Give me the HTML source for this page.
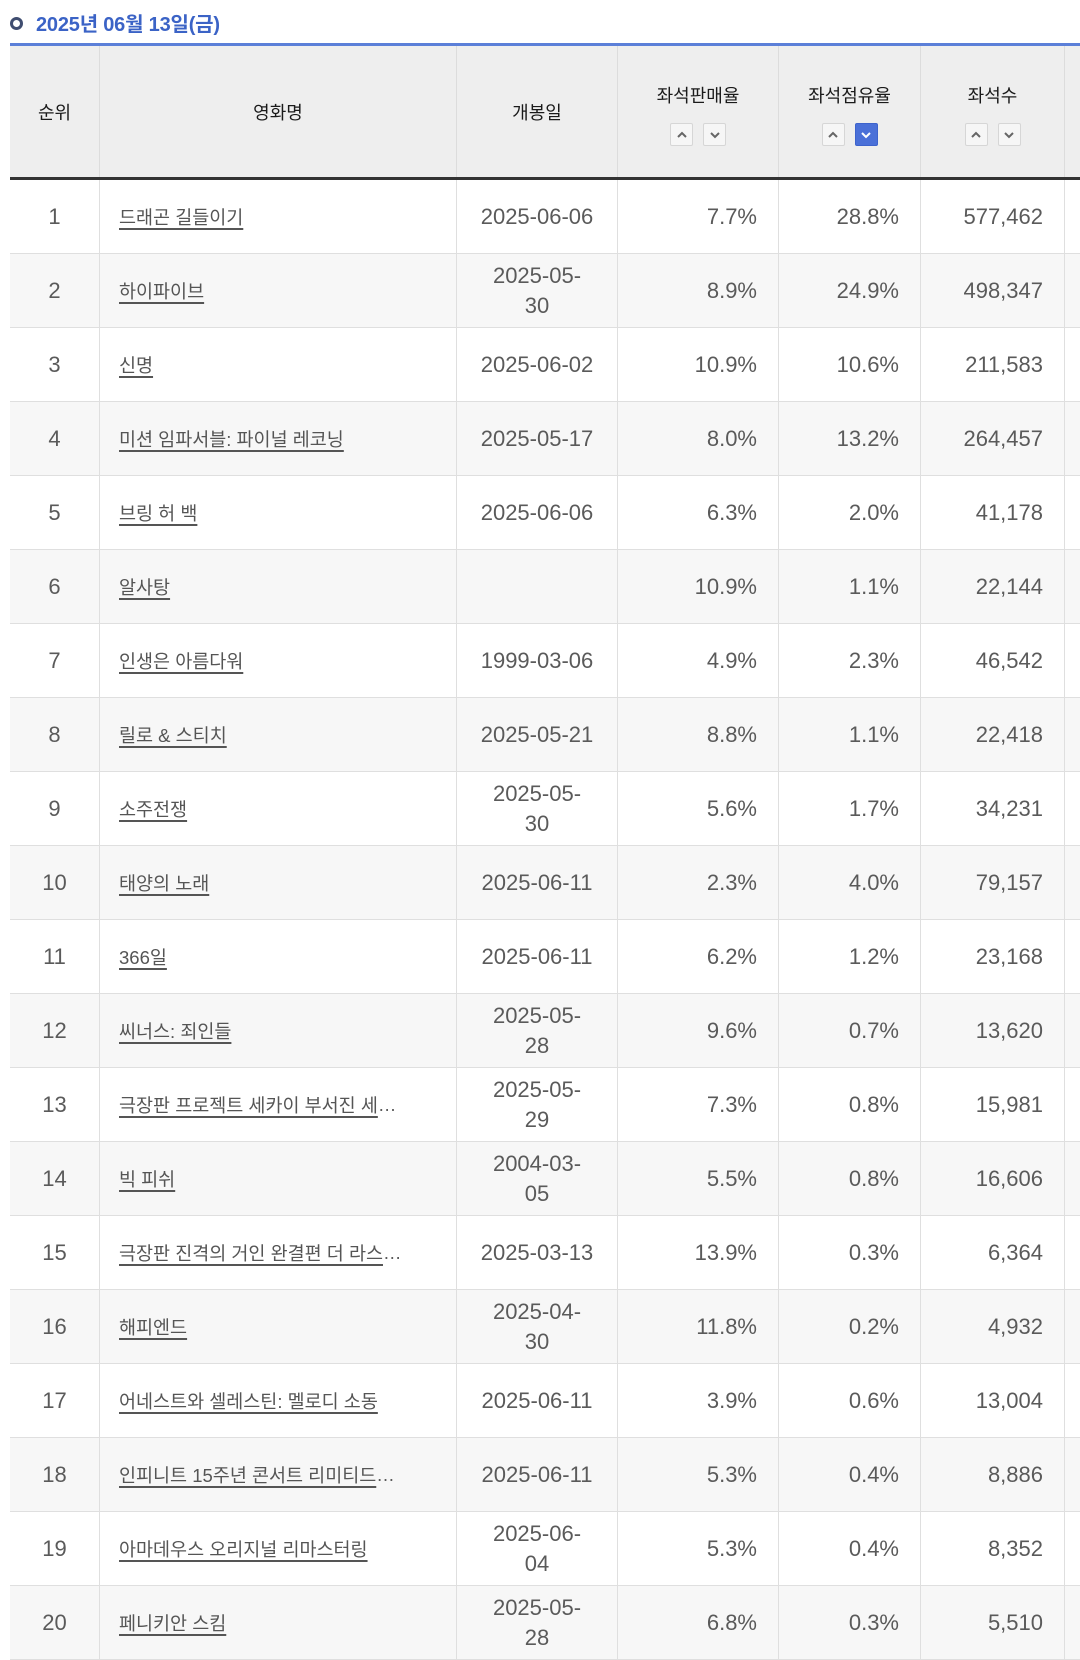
<!DOCTYPE html>
<html lang="ko">
<head>
<meta charset="utf-8">
<style>
html,body{margin:0;padding:0;background:#fff;}
body{width:1080px;height:1657px;overflow:hidden;position:relative;font-family:"Liberation Sans","Noto Sans CJK KR",sans-serif;}
.ttl{position:absolute;left:36px;top:11px;height:28px;line-height:28px;font-size:20px;font-weight:bold;color:#3b63c6;white-space:nowrap;letter-spacing:-0.2px;}
.ring{position:absolute;left:10px;top:17px;width:13px;height:13px;box-sizing:border-box;border:3px solid #3f4d70;border-radius:50%;background:#fff;}
.t{position:absolute;left:10px;top:43px;width:1070px;}
.top{height:3px;background:#5b7fd8;}
.hd{display:flex;height:131px;background:#eeeeee;}
.hd>div{box-sizing:border-box;border-right:1px solid #dcdcdc;height:131px;position:relative;font-size:18px;color:#1a1a1a;display:flex;align-items:center;justify-content:center;}
.hd>div.last{border-right:none;flex:1;}
.hd .lbl{position:absolute;left:0;right:0;top:38px;height:24px;line-height:24px;text-align:center;}
.hd .btns{position:absolute;left:0;right:0;top:77px;display:flex;justify-content:center;gap:10px;}
.b{width:23px;height:23px;box-sizing:border-box;border:1px solid #d6d6d6;background:#f6f6f6;border-radius:2px;display:flex;align-items:center;justify-content:center;}
.b.on{background:#4a70d8;border-color:#3d63cc;}
.dark{height:3px;background:#333;}
.r{display:flex;height:74px;border-bottom:1px solid #dfdfdf;box-sizing:border-box;background:#fff;}
.bd .r:nth-child(even){background:#f7f7f7;}
.r>div{box-sizing:border-box;border-right:1px solid #dfdfdf;height:73px;display:flex;align-items:center;color:#5a5a5a;font-size:22px;white-space:nowrap;}
.c1{width:90px;justify-content:center;}
.r>div.c2{width:357px;padding-left:19px;font-size:18.5px;}
.c2 a{color:#555;text-decoration:underline;text-decoration-thickness:1.5px;text-underline-offset:4px;}
.c3{width:161px;justify-content:center;text-align:center;line-height:30px;}
.c4{width:161px;justify-content:flex-end;padding-right:21px;}
.c5{width:142px;justify-content:flex-end;padding-right:21px;}
.c6{width:144px;justify-content:flex-end;padding-right:21px;}
.r>div.c7{flex:1;border-right:none;}
.w1{width:90px}.w2{width:357px}.w3{width:161px}.w4{width:161px}.w5{width:142px}.w6{width:144px}
</style>
</head>
<body>
<div class="ring"></div>
<div class="ttl">2025년 06월 13일(금)</div>
<div class="t">
  <div class="top"></div>
  <div class="hd">
    <div class="w1">순위</div>
    <div class="w2">영화명</div>
    <div class="w3">개봉일</div>
    <div class="w4"><div class="lbl">좌석판매율</div><div class="btns">
      <div class="b"><svg width="12" height="8" viewBox="0 0 12 8"><polyline points="2,6 6,2 10,6" fill="none" stroke="#666" stroke-width="2"/></svg></div>
      <div class="b"><svg width="12" height="8" viewBox="0 0 12 8"><polyline points="2,2 6,6 10,2" fill="none" stroke="#666" stroke-width="2"/></svg></div>
    </div></div>
    <div class="w5"><div class="lbl">좌석점유율</div><div class="btns">
      <div class="b"><svg width="12" height="8" viewBox="0 0 12 8"><polyline points="2,6 6,2 10,6" fill="none" stroke="#666" stroke-width="2"/></svg></div>
      <div class="b on"><svg width="12" height="8" viewBox="0 0 12 8"><polyline points="2,2 6,6 10,2" fill="none" stroke="#fff" stroke-width="2"/></svg></div>
    </div></div>
    <div class="w6"><div class="lbl">좌석수</div><div class="btns">
      <div class="b"><svg width="12" height="8" viewBox="0 0 12 8"><polyline points="2,6 6,2 10,6" fill="none" stroke="#666" stroke-width="2"/></svg></div>
      <div class="b"><svg width="12" height="8" viewBox="0 0 12 8"><polyline points="2,2 6,6 10,2" fill="none" stroke="#666" stroke-width="2"/></svg></div>
    </div></div>
    <div class="last"></div>
  </div>
  <div class="dark"></div>
  <div class="bd">
    <div class="r"><div class="c1">1</div><div class="c2"><a>드래곤 길들이기</a></div><div class="c3">2025-06-06</div><div class="c4">7.7%</div><div class="c5">28.8%</div><div class="c6">577,462</div><div class="c7"></div></div>
    <div class="r"><div class="c1">2</div><div class="c2"><a>하이파이브</a></div><div class="c3">2025-05-<br>30</div><div class="c4">8.9%</div><div class="c5">24.9%</div><div class="c6">498,347</div><div class="c7"></div></div>
    <div class="r"><div class="c1">3</div><div class="c2"><a>신명</a></div><div class="c3">2025-06-02</div><div class="c4">10.9%</div><div class="c5">10.6%</div><div class="c6">211,583</div><div class="c7"></div></div>
    <div class="r"><div class="c1">4</div><div class="c2"><a>미션 임파서블: 파이널 레코닝</a></div><div class="c3">2025-05-17</div><div class="c4">8.0%</div><div class="c5">13.2%</div><div class="c6">264,457</div><div class="c7"></div></div>
    <div class="r"><div class="c1">5</div><div class="c2"><a>브링 허 백</a></div><div class="c3">2025-06-06</div><div class="c4">6.3%</div><div class="c5">2.0%</div><div class="c6">41,178</div><div class="c7"></div></div>
    <div class="r"><div class="c1">6</div><div class="c2"><a>알사탕</a></div><div class="c3"></div><div class="c4">10.9%</div><div class="c5">1.1%</div><div class="c6">22,144</div><div class="c7"></div></div>
    <div class="r"><div class="c1">7</div><div class="c2"><a>인생은 아름다워</a></div><div class="c3">1999-03-06</div><div class="c4">4.9%</div><div class="c5">2.3%</div><div class="c6">46,542</div><div class="c7"></div></div>
    <div class="r"><div class="c1">8</div><div class="c2"><a>릴로 &amp; 스티치</a></div><div class="c3">2025-05-21</div><div class="c4">8.8%</div><div class="c5">1.1%</div><div class="c6">22,418</div><div class="c7"></div></div>
    <div class="r"><div class="c1">9</div><div class="c2"><a>소주전쟁</a></div><div class="c3">2025-05-<br>30</div><div class="c4">5.6%</div><div class="c5">1.7%</div><div class="c6">34,231</div><div class="c7"></div></div>
    <div class="r"><div class="c1">10</div><div class="c2"><a>태양의 노래</a></div><div class="c3">2025-06-11</div><div class="c4">2.3%</div><div class="c5">4.0%</div><div class="c6">79,157</div><div class="c7"></div></div>
    <div class="r"><div class="c1">11</div><div class="c2"><a>366일</a></div><div class="c3">2025-06-11</div><div class="c4">6.2%</div><div class="c5">1.2%</div><div class="c6">23,168</div><div class="c7"></div></div>
    <div class="r"><div class="c1">12</div><div class="c2"><a>씨너스: 죄인들</a></div><div class="c3">2025-05-<br>28</div><div class="c4">9.6%</div><div class="c5">0.7%</div><div class="c6">13,620</div><div class="c7"></div></div>
    <div class="r"><div class="c1">13</div><div class="c2"><a>극장판 프로젝트 세카이 부서진 세</a>…</div><div class="c3">2025-05-<br>29</div><div class="c4">7.3%</div><div class="c5">0.8%</div><div class="c6">15,981</div><div class="c7"></div></div>
    <div class="r"><div class="c1">14</div><div class="c2"><a>빅 피쉬</a></div><div class="c3">2004-03-<br>05</div><div class="c4">5.5%</div><div class="c5">0.8%</div><div class="c6">16,606</div><div class="c7"></div></div>
    <div class="r"><div class="c1">15</div><div class="c2"><a>극장판 진격의 거인 완결편 더 라스</a>…</div><div class="c3">2025-03-13</div><div class="c4">13.9%</div><div class="c5">0.3%</div><div class="c6">6,364</div><div class="c7"></div></div>
    <div class="r"><div class="c1">16</div><div class="c2"><a>해피엔드</a></div><div class="c3">2025-04-<br>30</div><div class="c4">11.8%</div><div class="c5">0.2%</div><div class="c6">4,932</div><div class="c7"></div></div>
    <div class="r"><div class="c1">17</div><div class="c2"><a>어네스트와 셀레스틴: 멜로디 소동</a></div><div class="c3">2025-06-11</div><div class="c4">3.9%</div><div class="c5">0.6%</div><div class="c6">13,004</div><div class="c7"></div></div>
    <div class="r"><div class="c1">18</div><div class="c2"><a>인피니트 15주년 콘서트 리미티드 </a>…</div><div class="c3">2025-06-11</div><div class="c4">5.3%</div><div class="c5">0.4%</div><div class="c6">8,886</div><div class="c7"></div></div>
    <div class="r"><div class="c1">19</div><div class="c2"><a>아마데우스 오리지널 리마스터링</a></div><div class="c3">2025-06-<br>04</div><div class="c4">5.3%</div><div class="c5">0.4%</div><div class="c6">8,352</div><div class="c7"></div></div>
    <div class="r"><div class="c1">20</div><div class="c2"><a>페니키안 스킴</a></div><div class="c3">2025-05-<br>28</div><div class="c4">6.8%</div><div class="c5">0.3%</div><div class="c6">5,510</div><div class="c7"></div></div>
  </div>
</div>
</body>
</html>
